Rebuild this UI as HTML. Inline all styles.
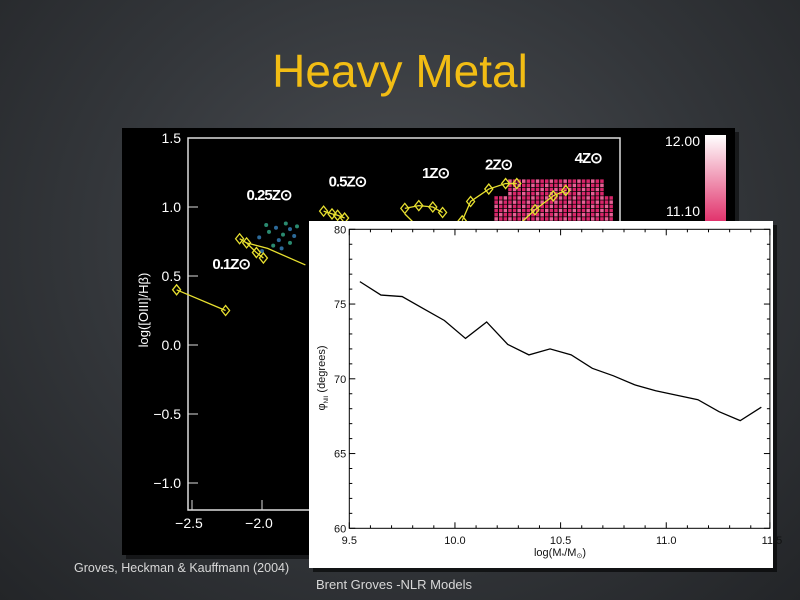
<!DOCTYPE html>
<html><head><meta charset="utf-8">
<style>
html,body{margin:0;padding:0;width:800px;height:600px;overflow:hidden;}
body{background:radial-gradient(ellipse at 50% 40%,#4a4d52 0%,#33363a 55%,#232528 100%);font-family:"Liberation Sans",sans-serif;}
#title{position:absolute;left:0;width:800px;top:44px;text-align:center;color:#f2bd14;font-size:46px;}
.cap{position:absolute;color:#d8d8d8;font-size:12.5px;}
</style></head>
<body>
<div id="title">Heavy Metal</div>
<svg id="bg" width="800" height="600" style="position:absolute;left:0;top:0">
  <rect x="126" y="132" width="613" height="427" fill="#000" opacity="0.5"/>
  <rect x="122" y="128" width="613" height="427" fill="#000"/>
  <defs><linearGradient id="cb" x1="0" y1="0" x2="0" y2="1"><stop offset="0" stop-color="#ffffff"/><stop offset="1" stop-color="#e02a66"/></linearGradient></defs>
  <rect x="705" y="135" width="21" height="90" fill="url(#cb)"/>
  <text x="700" y="146" fill="#fff" font-size="14" text-anchor="end">12.00</text>
  <text x="700" y="216" fill="#fff" font-size="14" text-anchor="end">11.10</text>
  <g id="bgplot"></g>
</svg>
<svg id="main" width="800" height="600" style="position:absolute;left:0;top:0">
  <rect x="313" y="225" width="464" height="347" fill="#000" opacity="0.6"/>
  <rect x="309" y="221" width="464" height="347" fill="#fff"/>
  <g id="mplot"></g>
</svg>
<div class="cap" style="left:74px;top:561px">Groves, Heckman &amp; Kauffmann (2004)</div>
<div class="cap" style="left:316px;top:577px;font-size:13px">Brent Groves -NLR Models</div>
<script>
// ---- main chart data ----
const massX = [9.55,9.65,9.75,9.85,9.95,10.05,10.15,10.25,10.35,10.45,10.55,10.65,10.75,10.85,10.95,11.05,11.15,11.25,11.35,11.45];
const phiY = [76.5,75.6,75.5,74.7,73.9,72.7,73.8,72.3,71.6,72.0,71.6,70.7,70.2,69.6,69.2,68.9,68.6,67.8,67.2,68.1];
const xTicks = [9.5,10.0,10.5,11.0,11.5];
const xTickLabels = ["9.5","10.0","10.5","11.0","11.5"];
const yTicks = [60,65,70,75,80];
const yTickLabels = ["60","65","70","75","80"];

// ---- background BPT data ----
const trackNames = ["0.1Z","0.25Z","0.5Z","1Z","2Z","4Z"];
const trackX = [[-2.61,-2.26],[-2.16,-2.11,-2.04,-1.99],[-1.56,-1.50,-1.46,-1.41],[-0.98,-0.88,-0.78,-0.71],[-0.57,-0.51,-0.38,-0.26,-0.18],[-0.34,-0.23,-0.05,0.08,0.17]];
const trackY = [[0.40,0.25],[0.77,0.74,0.67,0.63],[0.97,0.95,0.94,0.92],[0.99,1.01,1.00,0.96],[0.90,1.04,1.13,1.17,1.17],[0.62,0.81,0.98,1.08,1.12]];
const branchX = [[-2.11,-1.96,-1.69],[-0.98,-0.89,-0.75]];
const branchY = [[0.74,0.70,0.58],[0.95,0.86,0.76]];
const labelX = [-2.22,-1.95,-1.39,-0.76,-0.31,0.33];
const labelY = [0.55,1.05,1.15,1.21,1.27,1.32];
const tealX = [-2.02,-1.95,-1.9,-1.85,-1.8,-1.97,-1.88,-1.83,-1.77,-1.92,-1.86,-1.80,-2.0,-1.75];
const tealY = [0.78,0.82,0.85,0.80,0.84,0.87,0.76,0.88,0.79,0.72,0.70,0.74,0.68,0.86];

const S = "http://www.w3.org/2000/svg";
function el(p,t,a){const e=document.createElementNS(S,t);for(const k in a)e.setAttribute(k,a[k]);p.appendChild(e);return e;}

const bx = v => 192 + (v+2.5)*140;
const by = v => 207 - (v-1)*138;
const bg = document.getElementById('bgplot');
el(bg,'rect',{x:188,y:138,width:432,height:372,fill:'none',stroke:'#ddd','stroke-width':1.5});
for(let i=0;i<26;i++)for(let j=0;j<12;j++){
  const px=bx(-0.34)+i*4.6, py=by(1.2)+j*4.2;
  if((i<3||i>23)&&j<4) continue;
  const r=el(bg,'rect',{x:px,y:py,width:3.5,height:3.5,fill:(i+j)%3? '#d8266a':'#e86096'});
  
  
}
for(let i=0;i<tealX.length;i++){
  const c=el(bg,'circle',{cx:bx(tealX[i]),cy:by(tealY[i]),r:2,fill:i%2?'#2a8a70':'#2c6a9a'});
  
  
}
const bgY=[1.5,1.0,0.5,0.0,-0.5,-1.0], bgYL=["1.5","1.0","0.5","0.0","−0.5","−1.0"];
bgY.forEach((v,i)=>{el(bg,'line',{x1:188,x2:198,y1:by(v),y2:by(v),stroke:'#ddd'});
  const t=el(bg,'text',{x:181,y:by(v)+5,fill:'#fff','font-size':14,'text-anchor':'end'});t.textContent=bgYL[i];});
[-2.5,-2.0].forEach((v,i)=>{el(bg,'line',{x1:bx(v),x2:bx(v),y1:510,y2:500,stroke:'#ddd'});
  const t=el(bg,'text',{x:bx(v)-3,y:528,fill:'#fff','font-size':14,'text-anchor':'middle'});t.textContent=["−2.5","−2.0"][i];});
const yl=el(bg,'text',{x:0,y:0,fill:'#fff','font-size':13,'text-anchor':'middle',transform:'translate(148,310) rotate(-90)'});
yl.textContent='log([OIII]/Hβ)';
trackX.forEach((xs,k)=>{
  const pl=el(bg,'polyline',{points:xs.map((x,i)=>bx(x)+','+by(trackY[k][i])).join(' '),fill:'none',stroke:'#e8e030','stroke-width':1.3});
  
  
  xs.forEach((x,i)=>{const cx=bx(x),cy=by(trackY[k][i]);
    el(bg,'polygon',{points:`${cx},${cy-5} ${cx+4},${cy} ${cx},${cy+5} ${cx-4},${cy}`,fill:'none',stroke:'#e8e030','stroke-width':1.3});});
  const t=el(bg,'text',{x:bx(labelX[k]),y:by(labelY[k]),fill:'#fff','font-size':15,'font-weight':'bold','text-anchor':'middle','letter-spacing':'-1'});
  t.textContent=trackNames[k]+'⊙';
});
branchX.forEach((xs,k)=>{el(bg,'polyline',{points:xs.map((x,i)=>bx(x)+','+by(branchY[k][i])).join(' '),fill:'none',stroke:'#e8e030','stroke-width':1.3});});

// main chart
const X0=349.3, XS=211.3, Y0=229.3, YS=(528.3-229.3)/20;
const mx = v => X0 + (v-9.5)*XS;
const my = v => Y0 + (80-v)*YS;
const mp = document.getElementById('mplot');
const L=mx(9.5), R=mx(11.5)-2, T=my(80), B=my(60);
el(mp,'rect',{x:L,y:T,width:R-L,height:B-T,fill:'none',stroke:'#000','stroke-width':1});
for(let v=9.5;v<=11.501;v+=0.1){const x=Math.min(mx(v),R),big=Math.abs(v*2-Math.round(v*2))<0.01;const h=big?6:3;
  el(mp,'line',{x1:x,x2:x,y1:B,y2:B-h,stroke:'#000'});el(mp,'line',{x1:x,x2:x,y1:T,y2:T+h,stroke:'#000'});}
for(let v=60;v<=80;v++){const y=my(v),h=v%5?3:6;
  el(mp,'line',{x1:L,x2:L+h,y1:y,y2:y,stroke:'#000'});el(mp,'line',{x1:R,x2:R-h,y1:y,y2:y,stroke:'#000'});}
xTicks.forEach((v,i)=>{const t=el(mp,'text',{x:mx(v),y:544,'font-size':11,'text-anchor':'middle',fill:'#111'});t.textContent=xTickLabels[i];});
yTicks.forEach((v,i)=>{const t=el(mp,'text',{x:L-3,y:my(v)+4,'font-size':11,'text-anchor':'end',fill:'#111'});t.textContent=yTickLabels[i];});
const xt=el(mp,'text',{x:560,y:556,'font-size':11,'text-anchor':'middle',fill:'#111'});
xt.innerHTML='log(M<tspan font-size="7" dy="2">*</tspan><tspan dy="-2">/M</tspan><tspan font-size="7" dy="2">⊙</tspan><tspan dy="-2">)</tspan>';


const yt=el(mp,'text',{x:0,y:0,'font-size':11,'text-anchor':'middle',fill:'#111',transform:'translate(325,378) rotate(-90)'});
yt.innerHTML='φ<tspan font-size="6" dy="3">NII</tspan><tspan dy="-3"> (degrees)</tspan>';


const line=el(mp,'polyline',{points:massX.map((x,i)=>mx(x)+','+my(phiY[i])).join(' '),fill:'none',stroke:'#000','stroke-width':1.3});


</script>
</body></html>
